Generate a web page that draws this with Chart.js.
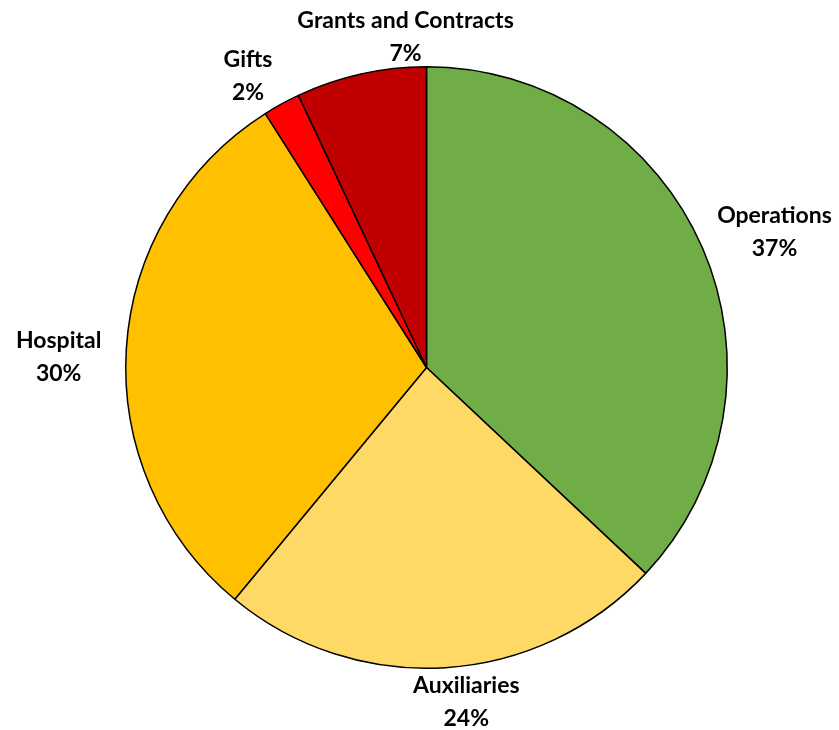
<!DOCTYPE html>
<html>
<head>
<meta charset="utf-8">
<title>Revenue Sources</title>
<script src="https://cdn.jsdelivr.net/npm/chart.js@4.4.1/dist/chart.umd.min.js"></script>
<style>
  html, body { margin: 0; padding: 0; background: #ffffff; }
  #wrap { width: 839px; height: 730px; position: relative; }
</style>
</head>
<body>
<div id="wrap"><canvas id="pie"></canvas></div>
<script>
// Revenue sources, share of total (percent)
const categories = ['Operations', 'Auxiliaries', 'Hospital', 'Gifts', 'Grants and Contracts'];
const shares = [37, 24, 30, 2, 7];
const sliceColors = ['#70AD47', '#FFD966', '#FFC000', '#FF0000', '#C00000'];

// Extra shift applied to each outside label after it is placed past the rim
const labelNudge = [[12, 0], [17, -6], [-17, 11], [-18, 8], [70, 3]];

const LABEL_FONT = 'bold 23px Lato, "Open Sans", sans-serif';
const LINE_H = 33;
const LABEL_GAP = 8;

// Draws "Name / NN%" outside each slice
const outsideLabels = {
  id: 'outsideLabels',
  afterDatasetsDraw(chart) {
    const ctx = chart.ctx;
    const meta = chart.getDatasetMeta(0);
    const total = shares.reduce((a, b) => a + b, 0);
    ctx.save();
    ctx.font = LABEL_FONT;
    ctx.fillStyle = '#000000';
    ctx.textAlign = 'center';
    ctx.textBaseline = 'middle';
    meta.data.forEach((arc, i) => {
      const p = arc.getProps(['x', 'y', 'startAngle', 'endAngle', 'outerRadius'], true);
      const mid = (p.startAngle + p.endAngle) / 2;
      const dx = Math.cos(mid), dy = Math.sin(mid);
      const lines = [categories[i], Math.round(shares[i] / total * 100) + '%'];
      const w = Math.max(...lines.map(t => ctx.measureText(t).width));
      const h = LINE_H * lines.length;
      const r = p.outerRadius + LABEL_GAP;
      const cx = p.x + dx * r + dx * w / 2 + labelNudge[i][0];
      const cy = p.y + dy * r + dy * h / 2 + labelNudge[i][1];
      lines.forEach((t, k) => {
        ctx.fillText(t, cx, cy + (k - (lines.length - 1) / 2) * LINE_H);
      });
    });
    ctx.restore();
  }
};

new Chart(document.getElementById('pie'), {
  type: 'pie',
  data: {
    labels: categories,
    datasets: [{
      data: shares,
      backgroundColor: sliceColors,
      borderColor: '#000000',
      borderWidth: 1.5
    }]
  },
  options: {
    responsive: true,
    maintainAspectRatio: false,
    animation: false,
    layout: { padding: { left: 125, right: 111, top: 66, bottom: 61 } },
    plugins: {
      legend: { display: false },
      tooltip: { enabled: false }
    }
  },
  plugins: [outsideLabels]
});
</script>
</body>
</html>
